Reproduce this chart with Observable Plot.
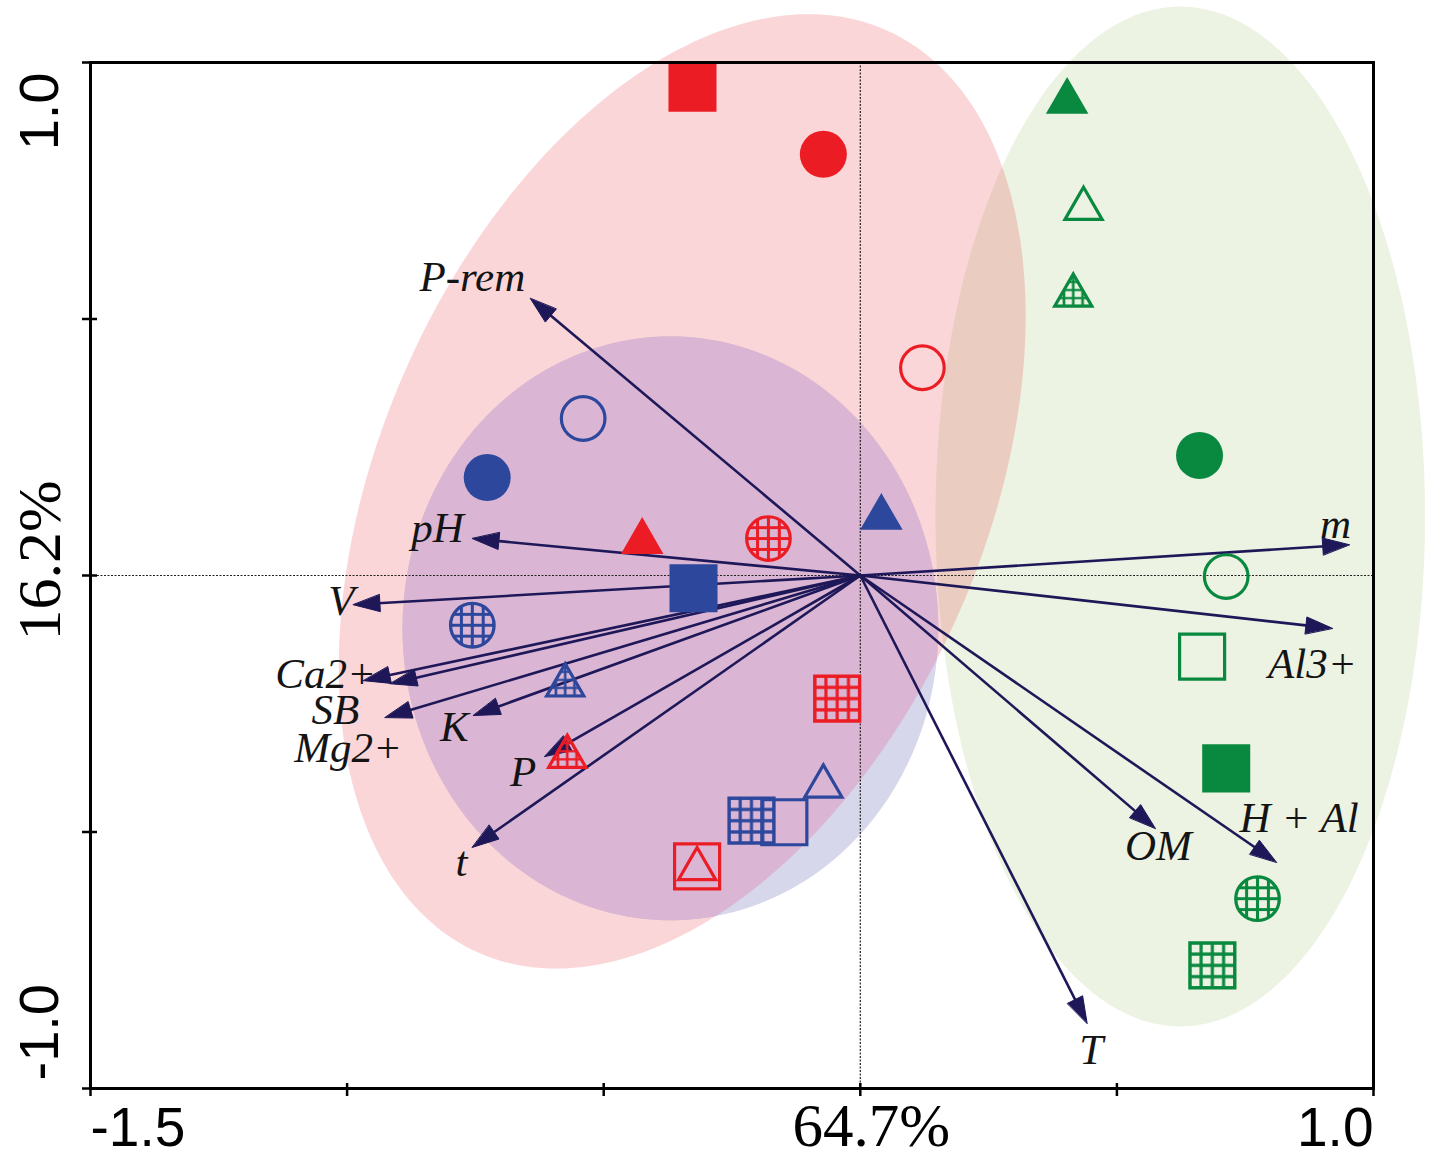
<!DOCTYPE html>
<html>
<head>
<meta charset="utf-8">
<script src="https://cdn.jsdelivr.net/npm/d3@7"></script>
<script src="https://cdn.jsdelivr.net/npm/@observablehq/plot@0.6"></script>
<style>
html, body { margin: 0; padding: 0; background: #fff; }
#chart svg { display: block; }
</style>
</head>
<body>
<svg width="0" height="0" style="position:absolute">
  <defs>
    <pattern id="grid-A" patternUnits="objectBoundingBox" patternContentUnits="objectBoundingBox" x="-0.125" y="-0.125" width="0.25" height="0.25">
      <path d="M0.125,0V0.25M0,0.125H0.25" stroke="#EC1C24" stroke-width="0.07" fill="none"/>
    </pattern>
    <pattern id="grid-B" patternUnits="objectBoundingBox" patternContentUnits="objectBoundingBox" x="-0.125" y="-0.125" width="0.25" height="0.25">
      <path d="M0.125,0V0.25M0,0.125H0.25" stroke="#2C479C" stroke-width="0.07" fill="none"/>
    </pattern>
    <pattern id="grid-C" patternUnits="objectBoundingBox" patternContentUnits="objectBoundingBox" x="-0.125" y="-0.125" width="0.25" height="0.25">
      <path d="M0.125,0V0.25M0,0.125H0.25" stroke="#08893F" stroke-width="0.07" fill="none"/>
    </pattern>
  </defs>
</svg>
<div id="chart"></div>
<script>
// ---------- data ----------
const xTicks = [-1.5, -1.0, -0.5, 0, 0.5, 1.0];
const yTicks = [-1.0, -0.5, 0, 0.5, 1.0];
const xAxisValues = [-1.5, 0, 1.0];
const xAxisTexts = ["-1.5", "64.7%", "1.0"];
const yAxisValues = [1.0, 0, -1.0];
const yAxisTexts = ["1.0", "16.2%", "-1.0"];

const groupNames = ["A", "B", "C"];
const groupColors = ["#EC1C24", "#2C479C", "#08893F"];

const pointGroup = ["A","A","A","A","A","A","A","A","A",
                    "B","B","B","B","B","B","B","B","B",
                    "C","C","C","C","C","C","C","C","C"];
const pointShape = ["square","circle","circle","triangle","circle","square","triangle","square","triangle",
                    "circle","circle","square","triangle","circle","triangle","triangle","square","square",
                    "triangle","triangle","triangle","circle","circle","square","square","circle","square"];
const pointStyle = ["filled","filled","open","filled","hatched","hatched","hatched","open","open",
                    "filled","open","filled","filled","hatched","hatched","open","hatched","open",
                    "filled","open","hatched","filled","open","open","filled","hatched","hatched"];
const pointX = [-0.327, -0.072, 0.121, -0.425, -0.179, -0.045, -0.571, -0.318, -0.318,
                -0.727, -0.540, -0.325, 0.041, -0.756, -0.575, -0.072, -0.212, -0.148,
                 0.403, 0.435, 0.415, 0.661, 0.713, 0.666, 0.713, 0.774, 0.686];
const pointY = [ 0.951, 0.821, 0.405, 0.066, 0.072, -0.240, -0.353, -0.567, -0.572,
                 0.191, 0.306, -0.025, 0.113, -0.097, -0.214, -0.411, -0.478, -0.481,
                 0.924, 0.715, 0.546, 0.234, -0.002, -0.158, -0.376, -0.630, -0.760];

const ellipseGroup = ["B", "C", "A"];
const ellipseCX = [-0.370, 0.6235, -0.347];
const ellipseCY = [-0.103, 0.115, 0.164];
const ellipseRA = [0.522, 0.477, 0.983];
const ellipseRB = [0.569, 0.994, 0.589];
const ellipseAngle = [0, 0, 66.2];

const varNames = ["P-rem","pH","V","Ca2+","SB","Mg2+","K","P","t","m","Al3+","OM","H + Al","T"];
const varX = [-0.643, -0.756, -0.988, -0.968, -0.926, -0.916, -0.754, -0.615, -0.756, 0.953, 0.920, 0.575, 0.811, 0.442];
const varY = [ 0.540,  0.072, -0.057, -0.205, -0.277, -0.211, -0.273, -0.353, -0.530, 0.060, -0.103, -0.493, -0.559, -0.873];
const labelX = [-0.756, -0.824, -1.011, -1.042, -1.023, -0.998, -0.791, -0.657, -0.777, 0.926, 0.881, 0.581, 0.855, 0.450];
const labelY = [ 0.581,  0.092, -0.051, -0.193, -0.263, -0.337, -0.296, -0.384, -0.559, 0.099, -0.172, -0.528, -0.474, -0.926];

// ---------- derived ----------
const colorOf = g => groupColors[groupNames.indexOf(g)];
const pts = pointX.map((x, i) => ({x, y: pointY[i], g: pointGroup[i], shape: pointShape[i], style: pointStyle[i]}));

function ellipsePoints(i, n = 240) {
  const out = [];
  const phi = ellipseAngle[i] * Math.PI / 180;
  for (let k = 0; k < n; k++) {
    const t = 2 * Math.PI * k / n;
    const ca = ellipseRA[i] * Math.cos(t), sb = ellipseRB[i] * Math.sin(t);
    out.push({x: ellipseCX[i] + ca * Math.cos(phi) - sb * Math.sin(phi),
              y: ellipseCY[i] + ca * Math.sin(phi) + sb * Math.cos(phi)});
  }
  return out;
}
function insideEllipse(i, p) {
  const phi = ellipseAngle[i] * Math.PI / 180;
  const dx = p.x - ellipseCX[i], dy = p.y - ellipseCY[i];
  const u = dx * Math.cos(phi) + dy * Math.sin(phi);
  const v = -dx * Math.sin(phi) + dy * Math.cos(phi);
  return (u / ellipseRA[i]) ** 2 + (v / ellipseRB[i]) ** 2 <= 1;
}
// overlap of the blue (B) and red (A) ellipses
const iB = ellipseGroup.indexOf("B"), iA = ellipseGroup.indexOf("A");
const overlap = [
  ...ellipsePoints(iB, 1440).filter(p => insideEllipse(iA, p)),
  ...ellipsePoints(iA, 1440).filter(p => insideEllipse(iB, p))
];
const ocx = d3.mean(overlap, p => p.x), ocy = d3.mean(overlap, p => p.y);
overlap.sort((p, q) => Math.atan2(p.y - ocy, p.x - ocx) - Math.atan2(q.y - ocy, q.x - ocx));

const headLen = 0.052, headHalf = 0.0165;
const shafts = [], heads = [];
varNames.forEach((n, i) => {
  const len = Math.hypot(varX[i], varY[i]);
  const ux = varX[i] / len, uy = varY[i] / len;
  const bx = varX[i] - headLen * ux, by = varY[i] - headLen * uy;
  shafts.push({n, x2: bx + 0.004 * ux, y2: by + 0.004 * uy});
  heads.push({n, x: varX[i], y: varY[i]},
             {n, x: bx - headHalf * uy, y: by + headHalf * ux},
             {n, x: bx + headHalf * uy, y: by - headHalf * ux});
});

const rSize = {
  filled:  {circle: 23.5, square: 27.1, triangle: 15.8},
  open:    {circle: 21.8, square: 25.4, triangle: 13.8},
  hatched: {circle: 21.8, square: 25.4, triangle: 13.8}
};
function dots(shape, style) {
  return Plot.dot(pts.filter(d => d.shape === shape && d.style === style), {
    x: "x", y: "y", symbol: shape, r: rSize[style][shape],
    fill: style === "filled" ? d => colorOf(d.g) : style === "hatched" ? d => `url(#grid-${d.g})` : "none",
    stroke: style === "filled" ? "none" : d => colorOf(d.g),
    strokeWidth: 3.2, strokeLinejoin: "miter"
  });
}

const SANS = "'Liberation Sans', Arial, sans-serif";
const SERIF = "'Liberation Serif', 'Times New Roman', serif";
const ARROW = "#1E1858";

const ellipseFill = {B: "#D7D7EB", C: "#EDF3E2", A: "rgb(231,55,65)"};
const ellipseOpacity = {B: 1, C: 1, A: 0.205};

const marks = [];
ellipseGroup.forEach((g, i) => {
  marks.push(Plot.line(ellipsePoints(i), {x: "x", y: "y", curve: "linear-closed",
    fill: ellipseFill[g], fillOpacity: ellipseOpacity[g], stroke: "none"}));
});
marks.push(
  Plot.line(overlap, {x: "x", y: "y", curve: "linear-closed", fill: "#DAB6D4", stroke: "none"}),
  Plot.ruleX([0], {stroke: "#222", strokeWidth: 1.2, strokeDasharray: "2,1.5"}),
  Plot.ruleY([0], {stroke: "#222", strokeWidth: 1.2, strokeDasharray: "2,1.5"}),
  Plot.link(shafts, {x1: 0, y1: 0, x2: "x2", y2: "y2", stroke: ARROW, strokeWidth: 2.6}),
  Plot.line(heads, {x: "x", y: "y", z: "n", curve: "linear-closed", fill: ARROW, stroke: ARROW, strokeWidth: 1, strokeLinejoin: "miter"}),
  Plot.text(varNames, {x: (d, i) => labelX[i], y: (d, i) => labelY[i], text: d => d,
    fontFamily: SERIF, fontStyle: "italic", fontSize: 43, fill: "#141414"})
);
for (const shape of ["circle", "square", "triangle"]) {
  for (const style of ["filled", "hatched", "open"]) marks.push(dots(shape, style));
}
marks.push(
  Plot.frame({stroke: "#000", strokeWidth: 3}),
  Plot.axisX({ticks: xTicks, tickSize: 13, dy: -5, tickFormat: () => "", label: null, strokeWidth: 2.5}),
  Plot.axisY({ticks: yTicks, tickSize: 15, dx: 7, tickFormat: () => "", label: null, strokeWidth: 2.5}),
  // x-axis labels
  Plot.text([xAxisTexts[0]], {x: xAxisValues[0], y: -1, text: d => d, textAnchor: "start", dy: 40, fontFamily: SANS, fontSize: 55, fill: "#000"}),
  Plot.text([xAxisTexts[1]], {x: xAxisValues[1], y: -1, text: d => d, dx: 11, dy: 38, fontFamily: SERIF, fontSize: 61, fill: "#000"}),
  Plot.text([xAxisTexts[2]], {x: xAxisValues[2], y: -1, text: d => d, textAnchor: "end", dy: 40, fontFamily: SANS, fontSize: 55, fill: "#000"}),
  // y-axis labels
  Plot.text([yAxisTexts[0]], {x: -1.5, y: yAxisValues[0], text: d => d, rotate: -90, textAnchor: "end", dx: -50, dy: 10, fontFamily: SANS, fontSize: 56, fill: "#000"}),
  Plot.text([yAxisTexts[1]], {x: -1.5, y: yAxisValues[1], text: d => d, rotate: -90, dx: -50, dy: -15, fontFamily: SERIF, fontSize: 62, fill: "#000"}),
  Plot.text([yAxisTexts[2]], {x: -1.5, y: yAxisValues[2], text: d => d, rotate: -90, textAnchor: "start", dx: -50, dy: -8, fontFamily: SANS, fontSize: 56, fill: "#000"})
);

const chart = Plot.plot({
  width: 1432,
  height: 1158,
  marginLeft: 90,
  marginRight: 59,
  marginTop: 62,
  marginBottom: 70,
  x: {domain: [-1.5, 1.0]},
  y: {domain: [-1.0, 1.0]},
  color: {type: "identity"},
  style: {background: "white", overflow: "visible", fontFamily: SANS},
  marks
});
document.getElementById("chart").appendChild(chart);
</script>
</body>
</html>
